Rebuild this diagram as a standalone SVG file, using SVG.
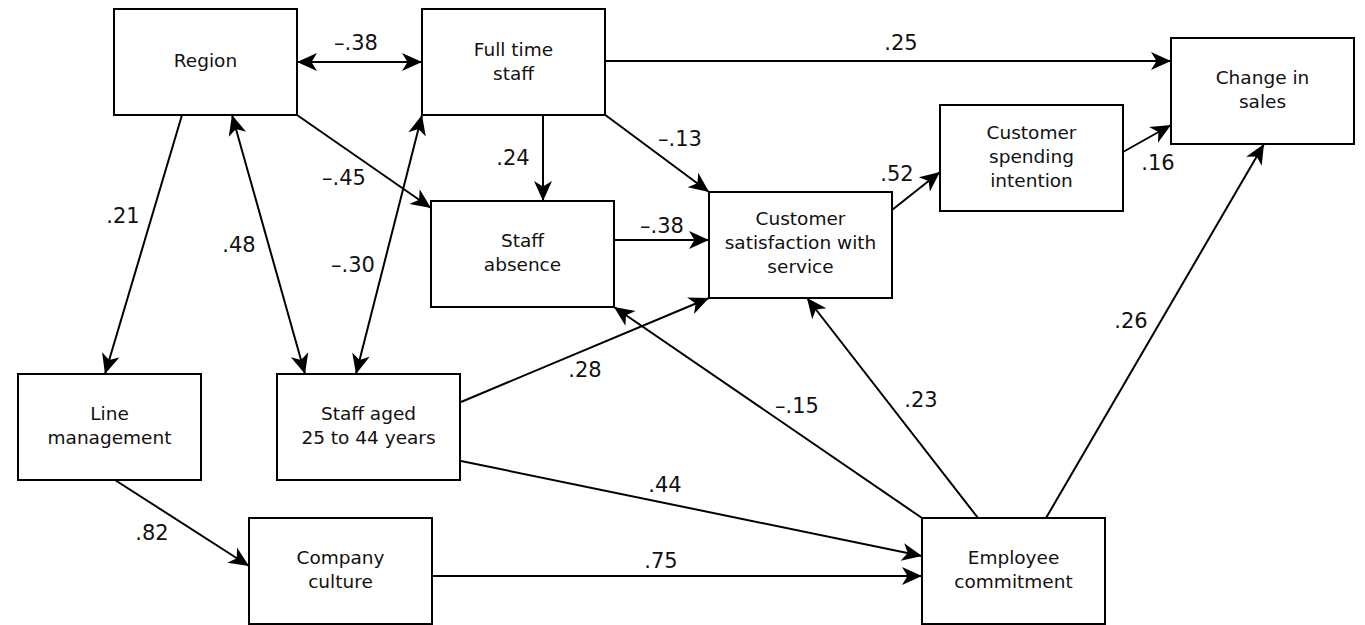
<svg xmlns="http://www.w3.org/2000/svg" width="1365" height="625" viewBox="0 0 1365 625">
<style>
.box{fill:#fff;stroke:#000;stroke-width:2}
.t{font-family:"DejaVu Sans",sans-serif;font-size:18.5px;text-anchor:middle;fill:#111}
.l{font-family:"DejaVu Sans",sans-serif;font-size:21px;text-anchor:middle;fill:#111}
.c line{stroke:#000;stroke-width:2;marker-end:url(#ah)}
.c line.d{marker-start:url(#ah)}
</style>
<defs>
<marker id="ah" viewBox="-22 -11 24 22" refX="0" refY="0" markerWidth="24" markerHeight="22" markerUnits="userSpaceOnUse" orient="auto-start-reverse">
<path d="M0,0 L-20,-9 L-14.5,0 L-20,9 Z" fill="#000"/>
</marker>
</defs>
<rect width="1365" height="625" fill="#fff"/>
<g class="c" id="connectors">
<line class="d" x1="297" y1="62" x2="422" y2="62"/>
<line x1="605" y1="61" x2="1171" y2="61"/>
<line x1="543" y1="115" x2="543" y2="201"/>
<line x1="297" y1="115" x2="431" y2="208"/>
<line x1="604" y1="114" x2="709" y2="192"/>
<line x1="182" y1="115" x2="105" y2="374"/>
<line class="d" x1="232" y1="115" x2="305" y2="374"/>
<line class="d" x1="422" y1="115" x2="356" y2="374"/>
<line x1="614" y1="240" x2="709" y2="240"/>
<line x1="892" y1="210" x2="940" y2="172"/>
<line x1="1123" y1="152" x2="1171" y2="125"/>
<line x1="1046" y1="518" x2="1264" y2="144"/>
<line x1="978" y1="518" x2="807" y2="298"/>
<line x1="922" y1="518" x2="614" y2="307"/>
<line x1="461" y1="402" x2="709" y2="298"/>
<line x1="461" y1="461" x2="922" y2="556"/>
<line x1="432" y1="576" x2="922" y2="576"/>
<line x1="115" y1="480" x2="249" y2="566"/>
</g>
<g id="labels">
<text class="l" x="356" y="50">–.38</text>
<text class="l" x="901" y="50">.25</text>
<text class="l" x="513" y="165">.24</text>
<text class="l" x="344" y="185">–.45</text>
<text class="l" x="680" y="146">–.13</text>
<text class="l" x="123" y="223">.21</text>
<text class="l" x="239" y="252">.48</text>
<text class="l" x="353" y="272">–.30</text>
<text class="l" x="662" y="233">–.38</text>
<text class="l" x="897" y="181">.52</text>
<text class="l" x="1158" y="170">.16</text>
<text class="l" x="1131" y="328">.26</text>
<text class="l" x="921" y="407">.23</text>
<text class="l" x="797" y="413">–.15</text>
<text class="l" x="585" y="377">.28</text>
<text class="l" x="665" y="492">.44</text>
<text class="l" x="661" y="568">.75</text>
<text class="l" x="152" y="540">.82</text>
</g>
<g id="region"><rect class="box" x="114" y="9" width="183" height="106"/><text class="t" x="205.5" y="67">Region</text></g>
<g id="fulltime"><rect class="box" x="422" y="9" width="183" height="106"/><text class="t" x="513.5" y="56">Full time</text><text class="t" x="513.5" y="80">staff</text></g>
<g id="changesales"><rect class="box" x="1171" y="38" width="183" height="106"/><text class="t" x="1262.5" y="84">Change in</text><text class="t" x="1262.5" y="108">sales</text></g>
<g id="spending"><rect class="box" x="940" y="105" width="183" height="106"/><text class="t" x="1031.5" y="139">Customer</text><text class="t" x="1031.5" y="163">spending</text><text class="t" x="1031.5" y="187">intention</text></g>
<g id="absence"><rect class="box" x="431" y="201" width="183" height="106"/><text class="t" x="522.5" y="247">Staff</text><text class="t" x="522.5" y="271">absence</text></g>
<g id="custsat"><rect class="box" x="709" y="192" width="183" height="106"/><text class="t" x="800.5" y="225">Customer</text><text class="t" x="800.5" y="249">satisfaction with</text><text class="t" x="800.5" y="273">service</text></g>
<g id="linemgmt"><rect class="box" x="18" y="374" width="183" height="106"/><text class="t" x="109.5" y="420">Line</text><text class="t" x="109.5" y="444">management</text></g>
<g id="staffaged"><rect class="box" x="277" y="374" width="183" height="106"/><text class="t" x="368.5" y="420">Staff aged</text><text class="t" x="368.5" y="444">25 to 44 years</text></g>
<g id="culture"><rect class="box" x="249" y="518" width="183" height="106"/><text class="t" x="340.5" y="564">Company</text><text class="t" x="340.5" y="588">culture</text></g>
<g id="employee"><rect class="box" x="922" y="518" width="183" height="106"/><text class="t" x="1013.5" y="564">Employee</text><text class="t" x="1013.5" y="588">commitment</text></g>
</svg>
